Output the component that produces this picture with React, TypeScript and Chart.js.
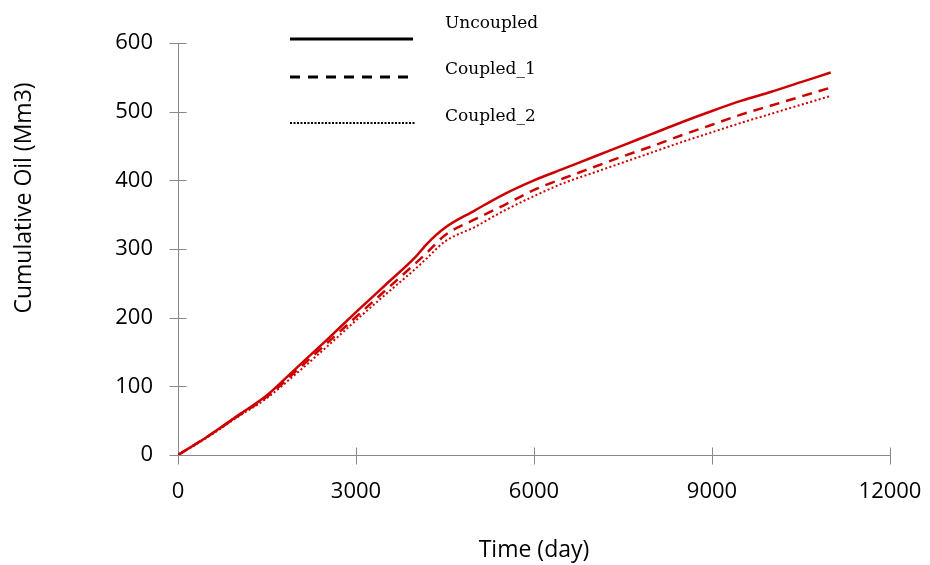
import { useEffect, useRef } from 'react';
import { Chart, registerables } from 'chart.js';

Chart.register(...registerables);

const days = [0, 500, 1000, 1500, 2000, 2500, 3000, 3500, 4000, 4200, 4500, 5000, 5500, 6000, 6500, 7000, 7500, 8000, 8500, 9000, 9500, 10000, 10500, 11000];
const uncoupled = [0, 27, 57, 87, 127, 167, 208, 248, 288, 308, 331, 356, 380, 400, 417, 434, 451, 468, 485, 501, 516, 529, 543, 557];
const coupled1 = [0, 27, 56, 85, 123, 162, 201, 240, 279, 295, 320, 343, 364, 386, 403, 419, 435, 450, 466, 481, 496, 509, 522, 535];
const coupled2 = [0, 26, 55, 83, 119, 157, 196, 234, 271, 287, 311, 332, 356, 377, 396, 411, 426, 441, 456, 470, 484, 497, 510, 523];

const seriesNames = ['Uncoupled', 'Coupled_1', 'Coupled_2'];
const xTicks = [0, 3000, 6000, 9000, 12000];
const yTicks = [0, 100, 200, 300, 400, 500, 600];
const xTitle = 'Time (day)';
const yTitle = 'Cumulative Oil (Mm3)';

const RED = 'rgb(204,0,0)';
const AXIS = '#888888';
const SANS = '"Open Sans", sans-serif';
const dashes: number[][] = [[], [10, 7], [2, 2.4]];
const widths = [2.5, 2.5, 2];

const decorPlugin = {
  id: 'decor',
  beforeDatasetsDraw(chart: any) {
    const { ctx, chartArea, scales } = chart;
    const xs = scales.x;
    const ys = scales.y;
    ctx.save();
    ctx.strokeStyle = AXIS;
    ctx.lineWidth = 1;
    ctx.beginPath();
    const ax = Math.round(chartArea.left) + 0.5;
    const ay = Math.round(chartArea.bottom) + 0.5;
    ctx.moveTo(ax, chartArea.top);
    ctx.lineTo(ax, ay);
    ctx.lineTo(Math.round(chartArea.right) + 0.5, ay);
    for (const v of yTicks) {
      const py = Math.round(ys.getPixelForValue(v)) + 0.5;
      ctx.moveTo(ax - 9, py);
      ctx.lineTo(ax + 8, py);
    }
    for (const v of xTicks) {
      const px = Math.round(xs.getPixelForValue(v)) + 0.5;
      ctx.moveTo(px, ay - 8);
      ctx.lineTo(px, ay + 9);
    }
    ctx.stroke();
    ctx.restore();
  },
  afterDraw(chart: any) {
    const { ctx, chartArea } = chart;
    ctx.save();
    ctx.fillStyle = '#000';
    ctx.font = `23px ${SANS}`;
    ctx.textAlign = 'center';
    ctx.textBaseline = 'middle';
    ctx.fillText(xTitle, (chartArea.left + chartArea.right) / 2, 550);
    ctx.save();
    ctx.translate(24, 198);
    ctx.rotate(-Math.PI / 2);
    ctx.fillText(yTitle, 0, 0);
    ctx.restore();

    // legend
    const lineY = [39, 77, 123];
    const textY = [28, 74, 121];
    ctx.strokeStyle = '#000';
    for (let i = 0; i < 3; i++) {
      ctx.beginPath();
      ctx.lineWidth = i === 2 ? 2 : 3;
      ctx.setLineDash(i === 0 ? [] : i === 1 ? [10, 8] : [2, 1.5]);
      ctx.moveTo(290, lineY[i]);
      ctx.lineTo(i === 2 ? 415 : 413, lineY[i]);
      ctx.stroke();
    }
    ctx.setLineDash([]);
    ctx.font = '17px "DejaVu Serif", serif';
    ctx.textAlign = 'left';
    ctx.textBaseline = 'alphabetic';
    for (let i = 0; i < 3; i++) {
      ctx.fillText(seriesNames[i], 445, textY[i]);
    }
    ctx.restore();
  },
};

export default function App() {
  const ref = useRef<HTMLCanvasElement | null>(null);
  useEffect(() => {
    if (!ref.current) return;
    const series = [uncoupled, coupled1, coupled2];
    const chart = new Chart(ref.current, {
      type: 'line',
      data: {
        datasets: series.map((s, i) => ({
          label: seriesNames[i],
          data: days.map((d, j) => ({ x: d, y: s[j] })),
          borderColor: RED,
          backgroundColor: RED,
          borderWidth: widths[i],
          borderDash: dashes[i],
          pointRadius: 0,
          cubicInterpolationMode: 'monotone' as const,
          fill: false,
        })),
      },
      options: {
        animation: false,
        responsive: true,
        maintainAspectRatio: false,
        layout: { padding: { top: 43, right: 40, left: 0, bottom: 0 } },
        plugins: { legend: { display: false }, tooltip: { enabled: false } },
        scales: {
          x: {
            type: 'linear',
            min: 0,
            max: 12000,
            afterBuildTicks: (s: any) => { s.ticks = xTicks.map((v) => ({ value: v })); },
            afterFit: (s: any) => { s.height = 110; s.paddingLeft = 0; s.paddingRight = 0; },
            grid: { display: false, drawTicks: false },
            border: { display: false },
            ticks: {
              padding: 24,
              color: '#000',
              font: { family: SANS, size: 22 },
              maxRotation: 0,
              callback: (v: any) => String(v),
            },
          },
          y: {
            type: 'linear',
            min: 0,
            max: 600,
            afterBuildTicks: (s: any) => { s.ticks = yTicks.map((v) => ({ value: v })); },
            afterFit: (s: any) => { s.width = 178; s.paddingTop = 0; s.paddingBottom = 0; },
            grid: { display: false, drawTicks: false },
            border: { display: false },
            ticks: {
              padding: 25,
              color: '#000',
              font: { family: SANS, size: 22 },
              callback: (v: any) => String(v),
            },
          },
        },
      },
      plugins: [decorPlugin],
    });
    return () => chart.destroy();
  }, []);
  return (
    <div style={{ position: 'absolute', left: 0, top: 0, width: 930, height: 565, background: '#fff' }}>
      <canvas ref={ref} />
    </div>
  );
}
